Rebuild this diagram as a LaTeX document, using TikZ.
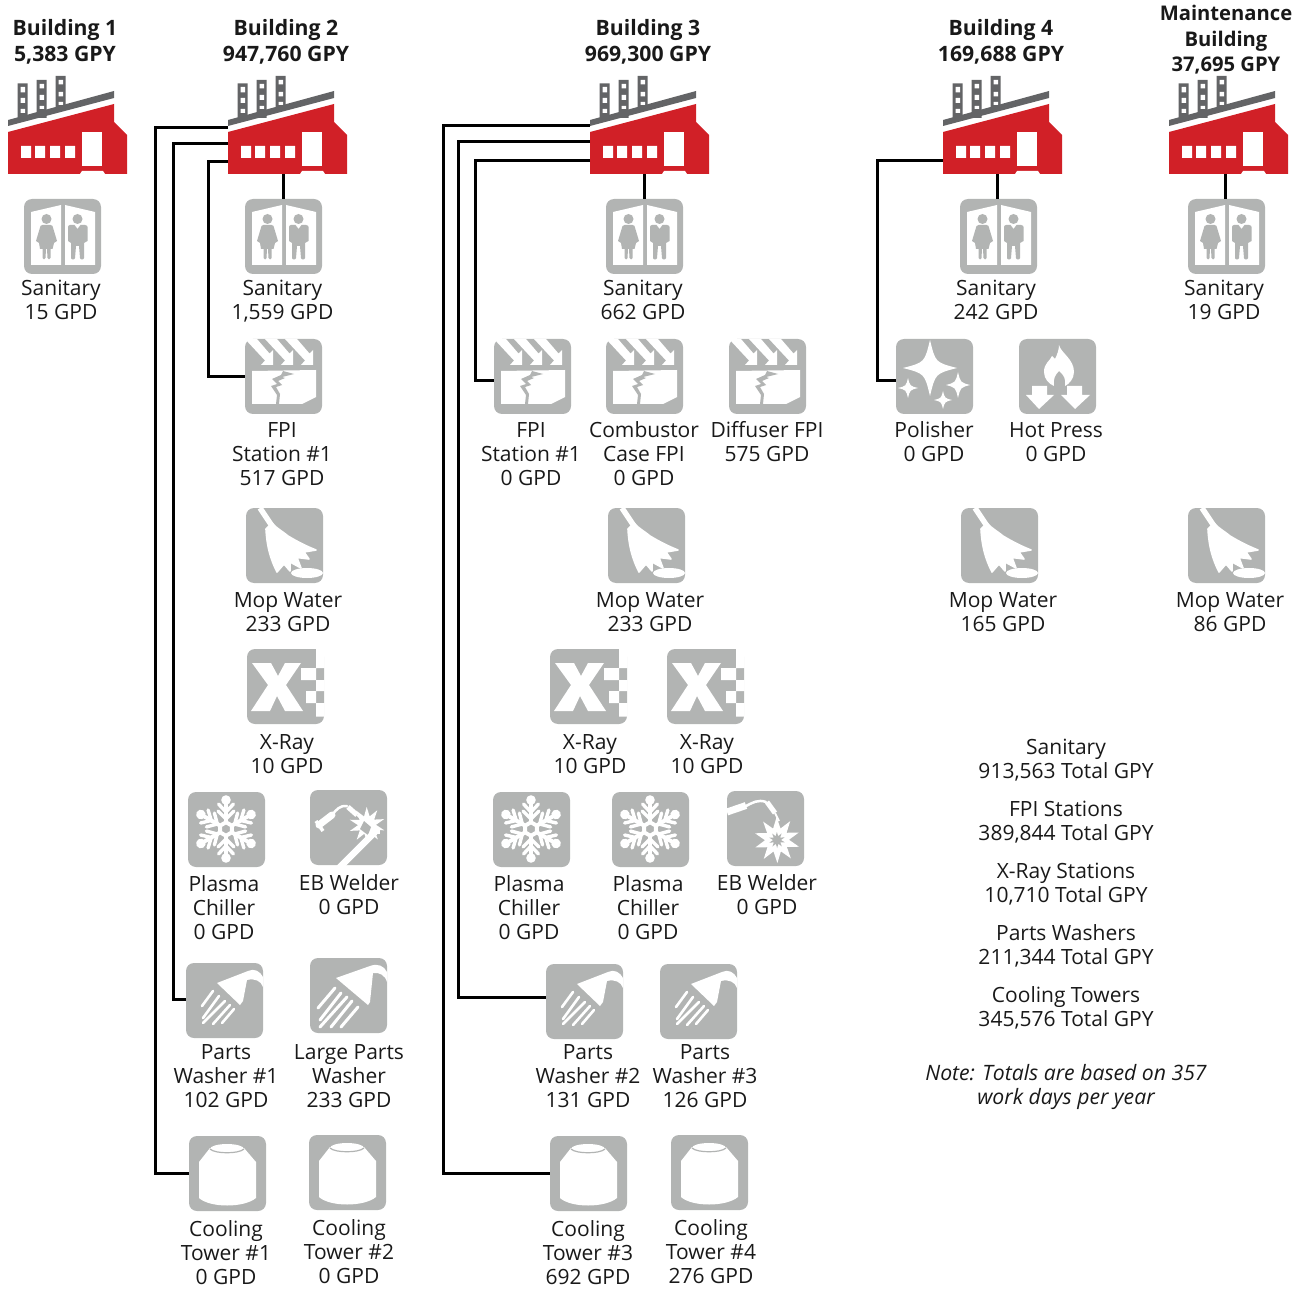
\documentclass[tikz,border=0pt]{standalone}
\usepackage{fontspec}
\setmainfont{Open Sans}
\definecolor{icongray}{HTML}{B2B4B3}
\definecolor{factred}{HTML}{D12027}
\definecolor{factgray}{HTML}{636466}
\tikzset{
  conn/.style={line width=3pt,draw=black,line cap=butt,line join=miter},
  iconbox/.style={rectangle,fill=icongray,rounded corners=8pt,minimum width=77pt,minimum height=75pt,inner sep=0pt,outer sep=0pt},
  factbox/.style={rectangle,minimum width=119pt,minimum height=42pt,inner sep=0pt,outer sep=0pt},
  lbl/.style={anchor=north,align=center,inner sep=0pt,outer sep=0pt,font=\fontsize{21}{24}\selectfont,text=black!90},
  ttl/.style={lbl,font=\fontsize{21.2}{26}\selectfont\bfseries},
  wh/.style={fill=white,draw=none},
  gy/.style={fill=icongray,draw=none},
  wl/.style={draw=white,line cap=round,line join=round},
}
\newcommand{\lab}[4]{\node[lbl,name=#1] at (#2,{#3-9.5}) {\strut #4};}
\newcommand{\icon}[4]{\begin{scope}[shift={(#2,#3)}]\node[iconbox,name=#1] at (38.5,37.5) {};#4\end{scope}}
\newcommand{\factory}[2]{\begin{scope}[shift={(#2,76)}]
  \fill[factgray] (9.5,7.5) rectangle (19.5,42) (28.5,4) rectangle (38.5,42) (47.5,0) rectangle (57.5,34);
  \fill[white] (12.5,11) rectangle (17,16.5) (12.5,22) rectangle (17,27) (12.5,33) rectangle (17,37)
    (31.5,8) rectangle (36,12.5) (31.5,19) rectangle (36,24) (31.5,30) rectangle (36,33)
    (50.5,4) rectangle (55,8.5) (50.5,16) rectangle (55,20.5) (50.5,26) rectangle (55,29);
  \fill[factgray] (0,44) -- (106,15) -- (106,22) -- (0,50) -- cycle;
  \fill[factred] (0,56) -- (106,28) -- (106,46) -- (119,59) -- (119,98) -- (0,98) -- cycle;
  \fill[white] (13,70) rectangle (23,82) (27,70) rectangle (37,82) (42,70) rectangle (52,82) (57,70) rectangle (67,82);
  \fill[white] (74,56) rectangle (94,90);
  \fill[white] (72,98) -- (74,95) -- (95,95) -- (97,98) -- cycle;
  \node[factbox,name=#1] at (59.5,77) {};
\end{scope}}
\newcommand{\kSan}{%
  \fill[wh] (7,13) -- (37,6) -- (37,66) -- (7,66) -- cycle;
  \fill[wh] (41,6) -- (71,13) -- (71,66) -- (41,66) -- cycle;
  \fill[gy] (22.5,20) circle (5);
  \fill[gy] (53.5,20) circle (5);
  \fill[gy] (18.5,26) -- (26.5,26) -- (28.5,27) -- (33,42) -- (30,44) -- (28.5,50) -- (26.5,50) -- (26.5,59) .. controls (26.5,61) and (23.5,61) .. (23.5,59) -- (23,50) -- (22,50) -- (21.5,59) .. controls (21.5,61) and (18.5,61) .. (18.5,59) -- (18.5,50) -- (16,50) -- (15,44) -- (12,42) -- (16.5,27) -- cycle;
  \fill[gy] (46,26) -- (50.5,26) -- (53.5,30) -- (56.5,26) -- (61,26) .. controls (62.5,26) and (63.5,27) .. (63.5,28) -- (63.5,42) -- (60,44) -- (60,59) .. controls (60,61) and (56,61) .. (56,59) -- (55,47) -- (52,47) -- (51,59) .. controls (51,61) and (47,61) .. (47,59) -- (47,44) -- (44,42) -- (44,28) .. controls (44,27) and (45,26) .. (46,26) -- cycle;
}
\newcommand{\farrow}[1]{\fill[wh] (#1,26) -- ({#1-12},26) -- ({#1-8},21.5) -- ({#1-28},0) -- ({#1-16},0) -- ({#1-3.5},14.5) -- (#1,11) -- cycle;}
\newcommand{\kFpi}{%
  \farrow{28}\farrow{48}\farrow{68}
  \fill[wh] (7,32) -- (71,31) -- (71,58) -- (57,65) -- (7,65) -- cycle;
  \fill[gy] (38,32) -- (49,35) -- (37,38) -- (40,39) -- (33,42) -- (37,46) -- (31,48) -- (35,55) -- (34,65) -- (31,65) -- (32,56) -- (26,47) -- (32,45) -- (27,40) -- (36,36) -- cycle;
}
\newcommand{\kMop}{%
  \draw[wl,line width=5.5pt,line cap=butt] (14,0) -- (26,18);
  \fill[wh,draw=white,line width=1.6pt,line join=round] (26,15) .. controls (30,20) and (36,23) .. (42,28) .. controls (52,34) and (60,38) .. (70,42) -- (58,44) -- (63,51) -- (51,49.5) -- (55,60) -- (44,54) -- (44,63) -- (38,56) -- (31,64) .. controls (25,52) and (21,40) .. (20,21) -- cycle;
  \fill[wh] (61,65) ellipse (16 and 5);
}
\newcommand{\kXray}{%
  \fill[wh] (5,14) -- (24,14) -- (31,27) -- (38,14) -- (54,14) -- (39,36) -- (56,62) -- (38,62) -- (30,47) -- (23,62) -- (4,62) -- (21,36) -- cycle;
  \fill[wh] (69,-.5) rectangle (77.5,19) (69,31) rectangle (77.5,42) (69,54) rectangle (77.5,67.5) (54,19) rectangle (69,31) (59,42) rectangle (69,54);
}
\newcommand{\kSnow}{%
  \foreach \a in {90,150,210,270,330,30}{%
    \begin{scope}[shift={(38,37)},rotate=\a]
      \draw[wl,line width=4pt,line cap=butt] (8,0) -- (27,0);
      \fill[wh] (29,0) circle (4.8);
      \draw[wl,line width=3.4pt] (10,0) -- (18,8) (10,0) -- (18,-8) (17,0) -- (25,7.5) (17,0) -- (25,-7.5);
    \end{scope}}
  \fill[wh,even odd rule] (38,28) -- (45.8,32.5) -- (45.8,41.5) -- (38,46) -- (30.2,41.5) -- (30.2,32.5) -- cycle
    (38,32.5) -- (41.9,34.8) -- (41.9,39.2) -- (38,41.5) -- (34.1,39.2) -- (34.1,34.8) -- cycle;
}
\newcommand{\starburst}[5]{%
  \fill[#5] plot[samples at={0,1,...,19}] ({#1+(mod(\x,2)==0 ? #3 : #4)*cos(\x*18+17)},{#2+(mod(\x,2)==0 ? #3 : #4)*sin(\x*18+17)}) -- cycle;}
\newcommand{\kWeldA}{%
  \draw[wl,line width=7pt] (9,35) -- (22,25);
  \draw[wl,line width=3.5pt,line cap=butt] (6,31) -- (13,41);
  \draw[wl,line width=2.5pt] (22,25) .. controls (26,20) and (30,15) .. (37,16);
  \draw[wl,line width=5pt,line cap=butt] (38,17) -- (47,25);
  \draw[wl,line width=1.5pt,line cap=butt] (47,25) -- (51,29);
  \starburst{57}{35}{18}{9}{wh}
  \fill[gy] (50,39) -- (54,31) -- (61,37) -- (58,45) -- cycle;
  \draw[wl,line width=6.5pt,line cap=butt] (29,78) -- (65,42);
  \fill[wh] (63,38) rectangle (70,44);
}
\newcommand{\kWeldB}{%
  \draw[wl,line width=7pt,line cap=butt] (0,21) -- (19,14.5);
  \draw[wl,line width=2.5pt] (19,15) .. controls (25,12) and (31,8) .. (39,11);
  \draw[wl,line width=5pt,line cap=butt] (40,11) -- (48,22);
  \draw[wl,line width=1.8pt,line cap=butt] (48,22) -- (52,30);
  \starburst{50}{49}{23}{12}{wh}
  \starburst{50}{49}{8}{4}{gy}
}
\newcommand{\kWash}{%
  \fill[wh] (31,20) -- (62,8) .. controls (68,5) and (74,8) .. (77,14) -- (77,24) .. controls (75,18) and (69,15) .. (61,17) -- (57,38) -- (54,42) -- cycle;
  \draw[wl,line width=2.6pt] (27,28) -- (16,43) (33,33) -- (17,55) (39,38) -- (17,60) (44,42) -- (27,61) (48,46) -- (36,60);
}
\newcommand{\kWashL}{%
  \fill[wh] (26,20) -- (60,8) .. controls (68,5) and (74,8) .. (77,14) -- (77,24) .. controls (75,17) and (69,14) .. (63,15) -- (60,44) -- (58,47) -- cycle;
  \draw[wl,line width=3pt] (25,30) -- (8,50) (31,35) -- (10,62) (37,39) -- (10,69) (42,43) -- (21,69) (48,49) -- (31,69);
}
\newcommand{\kCool}{%
  \fill[wh] (21,12) -- (55,12) -- (67,26) -- (67,62) .. controls (55,72) and (21,72) .. (10,62) -- (10,26) -- cycle;
  \fill[wh] (38,13) ellipse (17 and 5);
  \draw[draw=icongray,line width=1.2pt] (21,13) .. controls (26,18) and (50,18) .. (55,13);
}
\newcommand{\spark}[4]{\fill[wh] (#1,{#2-#4}) .. controls ({#1+.2*#3},{#2-.2*#4}) .. ({#1+#3},#2) .. controls ({#1+.2*#3},{#2+.2*#4}) .. (#1,{#2+#4}) .. controls ({#1-.2*#3},{#2+.2*#4}) .. ({#1-#3},#2) .. controls ({#1-.2*#3},{#2-.2*#4}) .. cycle;}
\newcommand{\kPol}{\spark{34}{29}{27}{28}\spark{62}{46}{12}{13}\spark{12}{49}{10}{10}\spark{47}{61}{9}{9}}
\newcommand{\kHot}{%
  \fill[wh] (40,6) .. controls (42,14) and (55,20) .. (55,33) .. controls (55,40) and (50,45) .. (46,47) .. controls (47,40) and (45,36) .. (40,32) .. controls (36,36) and (34,40) .. (35,47) .. controls (30,45) and (25,40) .. (25,33) .. controls (25,24) and (31,22) .. (33,17) .. controls (34,18) and (35,19) .. (36,20) .. controls (38,16) and (40,11) .. (40,6) -- cycle;
  \fill[wh] (13,47) -- (28,47) -- (28,56) -- (35,56) -- (20,70) -- (7,56) -- (13,56) -- cycle;
  \fill[wh] (48,47) -- (63,47) -- (63,56) -- (71,56) -- (56,70) -- (42,56) -- (48,56) -- cycle;
}
\begin{document}
\begin{tikzpicture}[x=1pt,y=-1pt]
\useasboundingbox (0,0) rectangle (1302,1289);
% factories
\factory{f1}{8}\factory{f2}{228}\factory{f3}{590}\factory{f4}{943}\factory{f5}{1169}
% icons building 1
\icon{s1}{24}{199}{\kSan}
% building 2
\icon{s2}{245}{199}{\kSan}
\icon{fpi2}{245}{339}{\kFpi}
\icon{mop2}{246}{508}{\kMop}
\icon{xr2}{247}{649}{\kXray}
\icon{ch2}{188}{792}{\kSnow}
\icon{eb2}{310}{790}{\kWeldA}
\icon{pw1}{186}{963}{\kWash}
\icon{lpw}{310}{958}{\kWashL}
\icon{ct1}{189}{1136}{\kCool}
\icon{ct2}{309}{1135}{\kCool}
% building 3
\icon{s3}{606}{199}{\kSan}
\icon{fpi3}{494}{339}{\kFpi}
\icon{comb}{606}{339}{\kFpi}
\icon{diff}{729}{339}{\kFpi}
\icon{mop3}{608}{508}{\kMop}
\icon{xr3a}{550}{649}{\kXray}
\icon{xr3b}{667}{649}{\kXray}
\icon{ch3a}{493}{792}{\kSnow}
\icon{ch3b}{612}{792}{\kSnow}
\icon{eb3}{727}{791}{\kWeldB}
\icon{pw2}{546}{964}{\kWash}
\icon{pw3}{660}{964}{\kWash}
\icon{ct3}{550}{1136}{\kCool}
\icon{ct4}{671}{1135}{\kCool}
% building 4
\icon{s4}{960}{199}{\kSan}
\icon{pol}{896}{339}{\kPol}
\icon{hot}{1019}{339}{\kHot}
\icon{mop4}{961}{508}{\kMop}
% maintenance
\icon{s5}{1188}{199}{\kSan}
\icon{mop5}{1188}{508}{\kMop}
% connectors
\draw[conn] ([xshift=-.5pt]s2.north) -- ([xshift=-.5pt]s2.north |- f2.south);
\draw[conn] ([xshift=-.5pt]s3.north) -- ([xshift=-.5pt]s3.north |- f3.south);
\draw[conn] ([xshift=-1.5pt]s4.north) -- ([xshift=-1.5pt]s4.north |- f4.south);
\draw[conn] ([xshift=-1.5pt]s5.north) -- ([xshift=-1.5pt]s5.north |- f5.south);
\draw[conn] ([yshift=25pt]f2.west) -- ++(-72.5,0) |- (ct1.west);
\draw[conn] ([yshift=9pt]f2.west) -- ++(-54.5,0) |- ([yshift=1.5pt]pw1.west);
\draw[conn] ([yshift=-9pt]f2.west) -- ++(-19.5,0) |- (fpi2.west);
\draw[conn] ([yshift=27pt]f3.west) -- ++(-146.5,0) |- (ct3.west);
\draw[conn] ([yshift=11pt]f3.west) -- ++(-131.5,0) |- ([yshift=4pt]pw2.west);
\draw[conn] ([yshift=-8pt]f3.west) -- ++(-114.5,0) |- ([yshift=-4pt]fpi3.west);
\draw[conn] ([yshift=-8pt]f4.west) -- ++(-65.5,0) |- ([yshift=-4pt]pol.west);
% titles
\node[ttl,name=t1] at (65,17) {\strut Building 1\\5,383 GPY};
\node[ttl,name=t2] at (286,17) {\strut Building 2\\947,760 GPY};
\node[ttl,name=t3] at (648,17) {\strut Building 3\\969,300 GPY};
\node[ttl,name=t4] at (1001,17) {\strut Building 4\\169,688 GPY};
\node[ttl,name=t5,font=\fontsize{20.2}{25.5}\selectfont\bfseries] at (1226,3) {\strut Maintenance\\Building\\37,695 GPY};
% labels
\lab{l1}{61}{288}{Sanitary\\15 GPD}
\lab{l2}{282.5}{288}{Sanitary\\1,559 GPD}
\lab{l3}{643}{288}{Sanitary\\662 GPD}
\lab{l4}{996}{288}{Sanitary\\242 GPD}
\lab{l5}{1224}{288}{Sanitary\\19 GPD}
\lab{l6}{282}{430}{FPI\\Station \#1\\517 GPD}
\lab{l7}{531}{430}{FPI\\Station \#1\\0 GPD}
\lab{l8}{644}{430}{Combustor\\Case FPI\\0 GPD}
\lab{l9}{767}{430}{Diffuser FPI\\575 GPD}
\lab{l10}{934}{430}{Polisher\\0 GPD}
\lab{l11}{1056}{430}{Hot Press\\0 GPD}
\lab{l12}{288}{600}{Mop Water\\233 GPD}
\lab{l13}{650}{600}{Mop Water\\233 GPD}
\lab{l14}{1003}{600}{Mop Water\\165 GPD}
\lab{l15}{1230}{600}{Mop Water\\86 GPD}
\lab{l16}{287}{742}{X-Ray\\10 GPD}
\lab{l17}{590}{742}{X-Ray\\10 GPD}
\lab{l18}{707}{742}{X-Ray\\10 GPD}
\lab{l19}{224}{884}{Plasma\\Chiller\\0 GPD}
\lab{l20}{349}{883}{EB Welder\\0 GPD}
\lab{l21}{529}{884}{Plasma\\Chiller\\0 GPD}
\lab{l22}{648}{884}{Plasma\\Chiller\\0 GPD}
\lab{l23}{767}{883}{EB Welder\\0 GPD}
\lab{l24}{226}{1052}{Parts\\Washer \#1\\102 GPD}
\lab{l25}{349}{1052}{Large Parts\\Washer\\233 GPD}
\lab{l26}{588}{1052}{Parts\\Washer \#2\\131 GPD}
\lab{l27}{705}{1052}{Parts\\Washer \#3\\126 GPD}
\lab{l28}{226}{1229}{Cooling\\Tower \#1\\0 GPD}
\lab{l29}{349}{1228}{Cooling\\Tower \#2\\0 GPD}
\lab{l30}{588}{1229}{Cooling\\Tower \#3\\692 GPD}
\lab{l31}{711}{1228}{Cooling\\Tower \#4\\276 GPD}
% totals
\lab{tot1}{1066}{747}{Sanitary\\913,563 Total GPY}
\lab{tot2}{1066}{809}{FPI Stations\\389,844 Total GPY}
\lab{tot3}{1066}{871}{X-Ray Stations\\10,710 Total GPY}
\lab{tot4}{1066}{933}{Parts Washers\\211,344 Total GPY}
\lab{tot5}{1066}{995}{Cooling Towers\\345,576 Total GPY}
\node[lbl,name=note,font=\fontsize{21.2}{24}\selectfont\itshape] at (1066,1063.5) {\strut Note: Totals are based on 357\\work days per year};
\end{tikzpicture}
\end{document}
